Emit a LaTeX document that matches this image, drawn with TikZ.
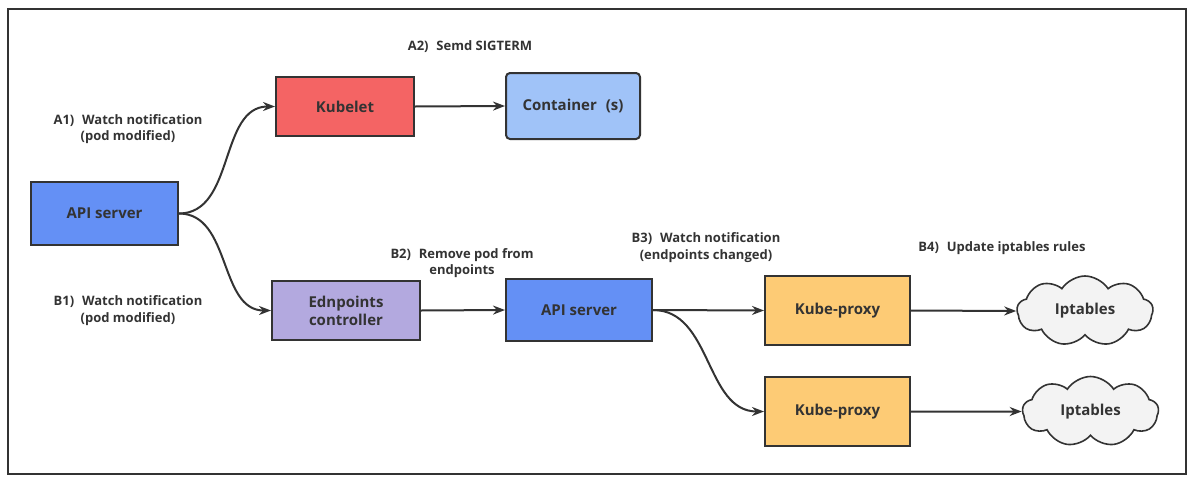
\documentclass[tikz,border=0pt]{standalone}
\usepackage{fontspec}
\setmainfont{Open Sans}
\usetikzlibrary{arrows.meta,shapes.symbols}
\definecolor{ink}{HTML}{333333}
\definecolor{apiblue}{HTML}{6490F5}
\definecolor{kubered}{HTML}{F46464}
\definecolor{contblue}{HTML}{A0C3F8}
\definecolor{epurple}{HTML}{B3A9DF}
\definecolor{proxyor}{HTML}{FDCB75}
\definecolor{cloudgr}{HTML}{F3F3F3}
\tikzset{
  box/.style={draw=ink, line width=2pt, text=ink, font=\bfseries\fontsize{15}{18}\selectfont, align=center, inner sep=0pt},
  cloudbox/.style={cloud, cloud puffs=9, cloud puff arc=115, cloud ignores aspect, draw=ink, line width=1.6pt, fill=cloudgr, text=ink, font=\bfseries\fontsize{15}{18}\selectfont, inner sep=0pt, minimum width=136pt, minimum height=70pt},
  lab/.style={text=ink, font=\bfseries\fontsize{13}{16.5}\selectfont, align=center, inner sep=0pt},
  conn/.style={draw=ink, line width=2pt, -{Stealth[length=12pt,width=9pt]}},
}
\begin{document}
\begin{tikzpicture}[x=1pt,y=-1pt]
\useasboundingbox (0,0) rectangle (1194,485);
\node[draw=ink, line width=2pt, minimum width=1178pt, minimum height=465pt, inner sep=0pt] (frame) at (597,241.5) {};

\node[box, fill=apiblue, minimum width=147pt, minimum height=63pt] (api1) at (104.5,213.5) {API server};
\node[box, fill=kubered, minimum width=138pt, minimum height=59pt] (kubelet) at (345,106.5) {Kubelet};
\node[box, fill=contblue, rounded corners=4pt, minimum width=134pt, minimum height=66pt] (cont) at (573,106) {Container\hspace{0.6em}(s)};
\node[box, fill=epurple, minimum width=148pt, minimum height=59pt] (ep) at (346,310.5) {Ednpoints\\controller};
\node[box, fill=apiblue, minimum width=146pt, minimum height=62pt] (api2) at (579,310) {API server};
\node[box, fill=proxyor, minimum width=145pt, minimum height=69pt] (kp1) at (837.5,310.5) {Kube-proxy};
\node[box, fill=proxyor, minimum width=145pt, minimum height=69pt] (kp2) at (837.5,411.5) {Kube-proxy};
\node[cloudbox] (ip1) at (1085,311) {Iptables};
\node[cloudbox] (ip2) at (1090.5,411.5) {Iptables};

\node[lab] (la1) at (128,129) {A1)\hspace{0.6em}Watch notification\\(pod modified)};
\node[lab] (la2) at (470,47) {A2)\hspace{0.6em}Semd SIGTERM};
\node[lab] (lb1) at (128,310.5) {B1)\hspace{0.6em}Watch notification\\(pod modified)};
\node[lab] (lb2) at (462,263) {B2)\hspace{0.6em}Remove pod from\\endpoints};
\node[lab] (lb3) at (706,247.5) {B3)\hspace{0.6em}Watch notification\\(endpoints changed)};
\node[lab] (lb4) at (1002,248) {B4)\hspace{0.6em}Update iptables rules};

\draw[conn] (api1.east) to[out=0,in=180] (kubelet.west);
\draw[conn] (api1.east) to[out=0,in=180] (ep.west);
\draw[conn] (kubelet.east) -- (cont.west);
\draw[conn] (ep.east) -- (api2.west);
\draw[conn] (api2.east) -- (kp1.west);
\draw[conn] (api2.east) to[out=0,in=180] (kp2.west);
\draw[conn] (kp1.east) -- (ip1.west);
\draw[conn] (kp2.east) -- (ip2.west);
\end{tikzpicture}
\end{document}
